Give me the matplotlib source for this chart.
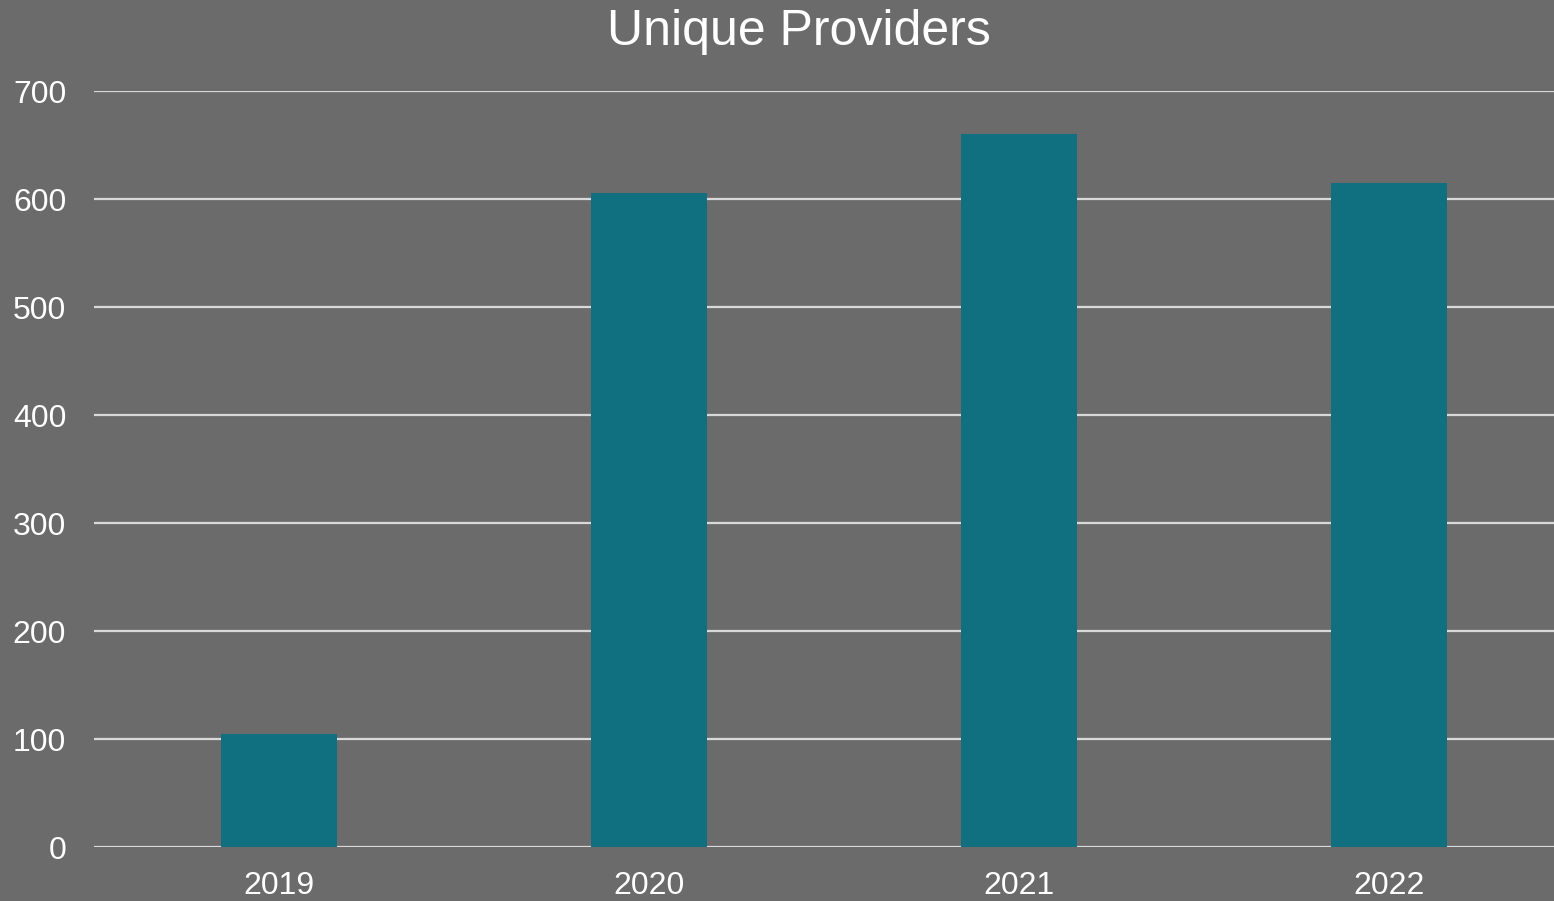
import matplotlib
matplotlib.use("Agg")
from matplotlib import pyplot as plt

years = ["2019", "2020", "2021", "2022"]
providers = [105, 606, 660, 615]
y_ticks = [0, 100, 200, 300, 400, 500, 600, 700]

bg = "#6b6b6b"
bar_color = "#117080"
grid_color = "#d9d9d9"

plt.rcParams["font.family"] = ["Liberation Sans", "DejaVu Sans"]

fig = plt.figure(figsize=(15.54, 9.01), dpi=100, facecolor=bg)
# plot area runs a little past the right edge of the picture
ax = fig.add_axes([0.0605, 0.0599, 0.9524, 0.8391], facecolor=bg)

x = list(range(len(years)))
ax.bar(x, providers, width=0.312, color=bar_color, zorder=3)

ax.set_xlim(-0.5, len(years) - 0.5)
ax.set_ylim(0, 700)
ax.set_yticks(y_ticks)
ax.set_xticks(x)
ax.set_xticklabels(years)
ax.yaxis.grid(True, color=grid_color, linewidth=1.6, zorder=1)
ax.set_axisbelow(True)
for s in ax.spines.values():
    s.set_visible(False)
ax.tick_params(axis="both", length=0, labelsize=23, colors="white")
ax.tick_params(axis="y", pad=20)
ax.tick_params(axis="x", pad=17)

fig.text(0.514, 0.965, "Unique Providers", ha="center", va="center",
         fontsize=36, color="white")

fig.savefig("out.png", dpi=100, facecolor=bg)
